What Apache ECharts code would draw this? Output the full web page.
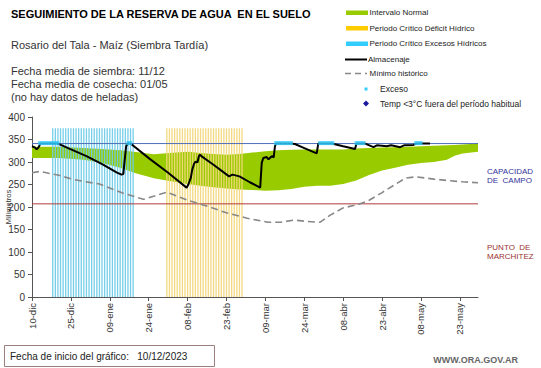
<!DOCTYPE html>
<html>
<head>
<meta charset="utf-8">
<script src="https://cdn.jsdelivr.net/npm/echarts@6/dist/echarts.min.js"></script>
<style>
html,body{margin:0;padding:0;background:#fff;}
#chart{width:541px;height:368px;}
</style>
</head>
<body>
<div id="chart"></div>
<script>
// ---- data (x = days since 10-dic-2023) ----
const xTickDays = [0, 15, 30, 45, 60, 75, 90, 105, 120, 135, 150, 165];
const xTickLabels = ['10-dic','25-dic','09-ene','24-ene','08-feb','23-feb','09-mar','24-mar','08-abr','23-abr','08-may','23-may'];

const bandDays  = [0,10,20,27,34,40,47,53,60,65,70,75,80,85,90,95,100,105,110,115,120,125,130,135,140,145,150,155,160,163,166,172];
const bandLower = [309,309,305,298,287,275,264,258,251,247,244,241,239,238,236,237,240,245,247,247,251,259,271,281,287,294,298,300,305,314,319,323];
const bandUpper = [334,334,331,329,326,322,317,320,323,320,318,316,318,321,324,326,327,328,328,328,328,330,331,332,333,334,335,336,337,338,339,341];

const minDays = [0,3,10,16,26,35,43,52,60,67,75,83,91,96,101,106,111,115,120,126,130,135,140,144,148,155,160,166,172];
const minVals = [276,279,271,261,251,231,217,233,215,203,187,175,166,166,171,168,166,182,198,206,215,232,250,264,267,262,259,256,254];

const almDays = [0,1.2,1.8,2.6,3.2,10,14.6,21,27.4,32.6,34.5,35.2,36.3,37,38,45.4,52.5,59.6,60.3,61.2,61.8,62.5,63.1,63.8,64.4,64.8,65.3,70,76,77.3,80,84,88,88.6,89.2,90.5,91.2,92.5,93.2,93.7,94.1,99.5,101.4,105,109.8,110.4,115.6,120,124.6,125.1,128.5,131.7,133,136.8,138.5,142,143.5,147,148.4,153.5];
const almVals = [335,332,328,333,341,341,329,313,294,277,272,273,335,341,341,307,276,243,250,264,283,296,301,299,314,316,313,294,268,272,268,255,243,298,309,311,306,313,310,335,341,341,340,331,319,341,341,335,329,341,341,333,337,335,337,333,337,338,341,341];

const excesoDays = [3,4,5,6,7,8,9,10,37,38,94,95,96,97,98,99,100,111,112,113,114,115,116,125,126,127,128,148,149,150];
const excesoLevel = 342;

const critExcesoDays = [8,9,10,11,12,13,14,15,16,17,18,19,20,21,22,23,24,25,26,27,28,29,30,31,32,33,34,35,36,37,38,39];
const critDeficitDays = [52,53,54,55,56,57,58,59,60,61,62,63,64,65,66,67,68,69,70,71,72,73,74,75,76,77,78,79,80,81];
const critTop = 375;

const capacidadCampo = 341;
const puntoMarchitez = 207;
const xMax = 172;

// ---- chart ----
const FONT = "'Liberation Sans', Arial, sans-serif";
const chart = echarts.init(document.getElementById('chart'), null, {renderer: 'svg'});

const pairs = (xs, ys) => xs.map((x, i) => [x, ys[i]]);

function txt(x, y, text, font, fill, align) {
  return {type: 'text', x: x, y: y, silent: true,
    style: {text: text, font: font, fill: fill, align: align || 'left', verticalAlign: 'middle'}};
}

const legendX = 346;
const graphic = [
  txt(11, 14, 'SEGUIMIENTO DE LA RESERVA DE AGUA  EN EL SUELO', 'bold 11px ' + FONT, '#000'),
  txt(11, 45, 'Rosario del Tala - Maíz (Siembra Tardía)', '11px ' + FONT, '#333'),
  txt(11, 71, 'Fecha media de siembra: 11/12', '11px ' + FONT, '#333'),
  txt(11, 84, 'Fecha media de cosecha: 01/05', '11px ' + FONT, '#333'),
  txt(11, 97, '(no hay datos de heladas)', '11px ' + FONT, '#333'),
  // legend
  {type: 'rect', shape: {x: legendX, y: 10.5, width: 22, height: 4.5}, style: {fill: '#99cc00'}, silent: true},
  txt(369.5, 12.5, 'Intervalo Normal', '8px ' + FONT, '#222'),
  {type: 'rect', shape: {x: legendX, y: 26, width: 22, height: 4.5}, style: {fill: '#ffcc00'}, silent: true},
  txt(369.5, 28, 'Periodo Crítico Déficit Hídrico', '8px ' + FONT, '#222'),
  {type: 'rect', shape: {x: legendX, y: 41.5, width: 22, height: 4.5}, style: {fill: '#33ccff'}, silent: true},
  txt(369.5, 43.5, 'Periodo Crítico Excesos Hídricos', '8px ' + FONT, '#222'),
  {type: 'line', shape: {x1: 345, y1: 59.5, x2: 367, y2: 59.5}, style: {stroke: '#000', lineWidth: 2}, silent: true},
  txt(368, 59, 'Almacenaje', '8px ' + FONT, '#222'),
  {type: 'line', shape: {x1: 345, y1: 73.5, x2: 367, y2: 73.5}, style: {stroke: '#888', lineWidth: 1.5, lineDash: [6, 4]}, silent: true},
  txt(369.5, 73.5, 'Mínimo histórico', '8px ' + FONT, '#222'),
  {type: 'rect', shape: {x: 364.5, y: 87.5, width: 3, height: 3}, style: {fill: '#33ccff'}, silent: true},
  txt(380, 89, 'Exceso', '8.5px ' + FONT, '#222'),
  {type: 'polygon', shape: {points: [[366, 100.5], [369, 103.5], [366, 106.5], [363, 103.5]]}, style: {fill: '#1a1aa0'}, silent: true},
  txt(380, 103.5, 'Temp <3°C fuera del período habitual', '8.5px ' + FONT, '#222'),
  // right labels
  txt(487, 171, 'CAPACIDAD', '8px ' + FONT, '#333399'),
  txt(487, 180, 'DE  CAMPO', '8px ' + FONT, '#333399'),
  txt(487, 247, 'PUNTO  DE', '8px ' + FONT, '#993333'),
  txt(487, 256, 'MARCHITEZ', '8px ' + FONT, '#993333'),
  // bottom box
  {type: 'rect', shape: {x: 4.5, y: 345.5, width: 210, height: 21}, style: {fill: '#fff', stroke: '#9c7f7f', lineWidth: 1}, silent: true},
  txt(10, 356.5, 'Fecha de inicio del gráfico:   10/12/2023', '10px ' + FONT, '#222'),
  txt(518, 360, 'WWW.ORA.GOV.AR', 'bold 9px ' + FONT, '#666', 'right')
];

const option = {
  animation: false,
  backgroundColor: '#fff',
  textStyle: {fontFamily: FONT},
  grid: {left: 32, right: 63, top: 117, bottom: 71, containLabel: false, outerBoundsMode: 'none'},
  xAxis: {
    type: 'value', min: 0, max: xMax, interval: 15,
    axisLine: {show: true, lineStyle: {color: '#555', width: 1}},
    axisTick: {show: true, length: 4, customValues: xTickDays, lineStyle: {color: '#555'}},
    axisLabel: {
      customValues: xTickDays, rotate: 90, margin: 6, fontSize: 9.5, color: '#333', fontFamily: FONT,
      formatter: function (v) { const i = xTickDays.indexOf(v); return i >= 0 ? xTickLabels[i] : ''; }
    },
    splitLine: {show: false}
  },
  yAxis: {
    type: 'value', min: 0, max: 400, interval: 50,
    name: 'Milímetros', nameLocation: 'middle', nameRotate: 90, nameGap: 20, nameMoveOverlap: false,
    nameTextStyle: {fontSize: 7.5, color: '#333', fontFamily: FONT},
    axisLine: {show: true, lineStyle: {color: '#555', width: 1}},
    axisTick: {show: true, length: 4, inside: false, lineStyle: {color: '#555'}},
    axisLabel: {fontSize: 10, color: '#333', margin: 7, fontFamily: FONT},
    splitLine: {show: false}
  },
  graphic: graphic,
  series: [
    {name: 'Intervalo Normal', type: 'custom', silent: true, z: 1,
     data: bandDays.map((d, i) => [d, bandLower[i], bandUpper[i]]),
     encode: {x: 0, y: [1, 2]},
     renderItem: function (params, api) {
       if (params.dataIndex !== 0) return null;
       const pts = [];
       for (let i = 0; i < bandDays.length; i++) pts.push(api.coord([bandDays[i], bandUpper[i]]));
       for (let i = bandDays.length - 1; i >= 0; i--) pts.push(api.coord([bandDays[i], bandLower[i]]));
       return {type: 'polygon', shape: {points: pts}, style: {fill: '#99cc00'}};
     }},
    {name: 'Periodo Crítico Excesos Hídricos', type: 'bar', barWidth: 1.3, barGap: '-100%',
     data: critExcesoDays.map(d => [d, critTop]), itemStyle: {color: '#6fcbe8', opacity: 0.95}, silent: true, z: 2},
    {name: 'Periodo Crítico Déficit Hídrico', type: 'bar', barWidth: 1.3, barGap: '-100%',
     data: critDeficitDays.map(d => [d, critTop]), itemStyle: {color: '#f2d77a', opacity: 0.95}, silent: true, z: 2},
    {name: 'Capacidad de campo', type: 'line', data: [[0, capacidadCampo], [xMax, capacidadCampo]],
     symbol: 'none', lineStyle: {color: '#4f6fb8', width: 1}, silent: true, z: 3},
    {name: 'Punto de marchitez', type: 'line', data: [[0, puntoMarchitez], [xMax, puntoMarchitez]],
     symbol: 'none', lineStyle: {color: '#b03a3a', width: 1}, silent: true, z: 3},
    {name: 'Mínimo histórico', type: 'line', data: pairs(minDays, minVals),
     symbol: 'none', lineStyle: {color: '#888', width: 1.6, type: [7, 4]}, silent: true, z: 4},
    {name: 'Almacenaje', type: 'line', data: pairs(almDays, almVals),
     symbol: 'none', lineStyle: {color: '#000', width: 2}, silent: true, z: 5},
    {name: 'Exceso', type: 'scatter', data: excesoDays.map(d => [d, excesoLevel]),
     symbol: 'rect', symbolSize: [3.2, 4], itemStyle: {color: '#33ccff'}, silent: true, z: 6},
    {name: 'Temp <3°C fuera del período habitual', type: 'scatter', data: [],
     symbol: 'diamond', itemStyle: {color: '#1a1aa0'}, z: 6}
  ]
};
chart.setOption(option);
</script>
</body>
</html>
